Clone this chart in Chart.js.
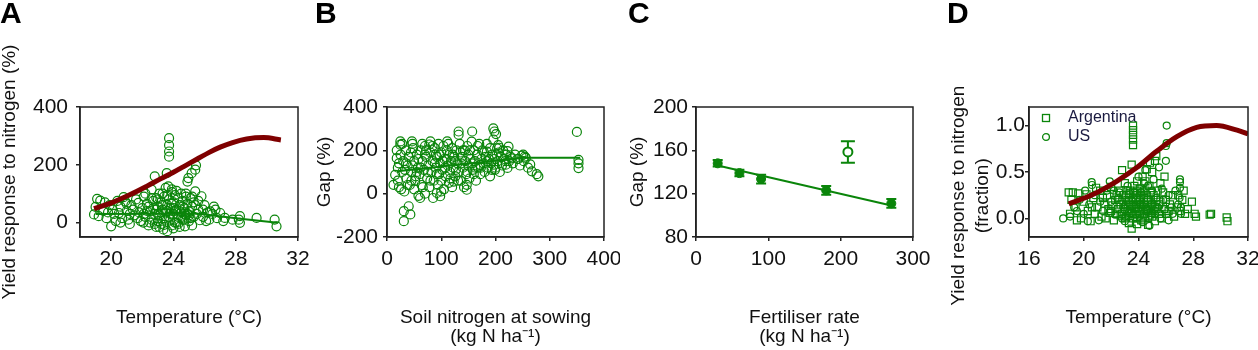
<!DOCTYPE html>
<html><head><meta charset="utf-8">
<script src="https://cdn.jsdelivr.net/npm/chart.js@4"></script>
<style>
html,body{margin:0;padding:0;background:#fff;}
#wrap{position:relative;width:1258px;height:350px;overflow:hidden;background:#fff;}
canvas{position:absolute;top:0;}
</style></head><body>
<div id="wrap">
<canvas id="cA" width="310" height="350" style="left:0px"></canvas>
<canvas id="cB" width="310" height="350" style="left:310px"></canvas>
<canvas id="cC" width="310" height="350" style="left:620px"></canvas>
<canvas id="cD" width="328" height="350" style="left:930px"></canvas>
</div>
<script>
// ---------- Panel A: yield response (%) vs temperature ----------
const aTemp = [19.1,19.3,19.0,18.9,19.2,19.5,19.7,19.9,20.0,20.2,
20.3,20.5,20.6,20.7,20.9,20.8,21.0,21.1,21.2,21.3,
21.5,21.6,21.75,21.8,21.9,22.0,22.07,22.1,22.2,22.3,
22.4,22.5,22.6,22.6,22.7,22.8,22.8,22.9,22.9,23.0,
23.0,23.1,23.1,23.2,23.2,23.3,23.35,23.4,23.4,23.5,
23.5,23.57,23.6,23.6,23.67,23.72,23.72,23.72,23.72,23.7,
23.8,23.8,23.9,23.9,24.0,24.0,24.1,24.1,24.2,24.3,
24.3,24.4,24.4,24.5,24.5,24.6,24.6,24.7,24.74,24.8,
24.8,24.9,24.96,24.9,25.0,25.0,25.1,25.17,25.2,25.2,
25.3,25.4,25.45,25.4,25.4,25.5,25.6,25.7,25.8,25.9,
25.9,26.0,26.1,26.2,26.35,26.5,26.6,26.8,27.0,27.2,
27.3,27.8,28.2,28.27,28.27,29.34,30.5,30.62,22.3,22.5,
22.7,23.0,23.3,23.5,23.8,24.0,24.2,24.5,24.7,25.0,
23.2,23.6,24.4,22.9,19.6,20.1,20.4,21.4,21.7,22.2,
23.9,24.8,25.2,26.3,26.7,22.1,22.4,22.6,22.8,23.0,
23.1,23.3,23.4,23.6,23.7,23.9,24.0,24.1,24.2,24.3,
24.6,24.7,24.9,25.1,25.3,21.2,21.0,20.6,19.8,25.6];
const aResp = [82,76,54,28,22,40,15,60,-13,30,
5,33,55,15,73,88,40,10,-5,60,
25,80,68,35,5,50,0,90,20,65,
-10,40,114,10,75,160,30,85,-15,55,
5,100,25,70,-5,45,-24,90,15,120,
35,171,60,-30,125,292,268,246,228,80,
10,50,105,-10,30,70,95,0,45,20,
85,-15,60,35,100,10,75,50,-13,90,
25,65,154,142,5,40,85,171,-10,55,
20,183,198,108,60,30,75,8,91,45,
20,60,5,35,39,30,55,15,33,5,
16,10,10,22,-1,16,10,-13,40,0,
50,30,60,10,30,50,0,20,30,25,
35,40,40,45,70,45,75,45,15,100,
115,100,90,10,45,30,55,85,-5,80,
-15,100,-8,95,20,65,-20,40,110,-5,
55,10,30,15,70,30,65,0,35,45];
const aCurveTemp = [18.9,20.1,21.2,22.3,23.2,24.0,24.8,25.5,26.3,27.0,27.8,28.7,29.8,30.9];
const aCurveResp = [48,70,96,126,152,174,198,219,243,261,277,289,294,286];
const aLineTemp = [19.0,25.5,28.3,30.7];
const aLineResp = [30,31,13,-1];
const aXTicks = [20,24,28,32];
const aYTicks = [0,200,400];

// ---------- Panel B: gap (%) vs soil nitrogen at sowing ----------
const bN = [24.6,24.6,18,12,15,31,40,31,43,46,
47,61,80,78,98,92,111,132,132,157,
196,198,201,147,147,123,172,184,203,350,
353,353,353,279,276,267,264,254,251,224,
222,222,219,199,197,205,207,230,242,20,
20,22,25,28,30,32,35,36,38,40,
42,45,48,50,50,52,55,57,58,60,
62,64,65,68,70,70,72,74,76,78,
80,82,84,85,86,88,90,92,94,95,
96,98,100,100,102,104,105,106,108,110,
112,114,115,116,118,120,120,122,124,126,
128,130,132,134,136,138,140,140,142,144,
146,148,150,150,152,154,156,158,160,162,
164,166,168,170,172,174,176,178,180,182,
184,186,188,190,190,192,194,196,198,200,
202,204,208,210,212,214,216,220,225,228,
232,236,240,245,248,252,256,260,70,35,
55,90,125,160,45,65,110,135,18,22,
26,28,33,38,44,47,53,58,62,66,
72,75,80,84,88,92,97,100,103,107,
113,117,121,127,131,137,143,148,153,157,
163,167,173,179,185,193,206,218];
const bGap = [241,226,164,41,87,-81,-58,-127,-96,241,
230,-20,241,227,-12,3,241,287,272,287,
301,287,275,41,18,56,133,194,209,285,
156,118,140,80,90,103,135,171,180,217,
196,119,134,110,134,224,212,163,160,120,
60,30,180,100,150,10,200,70,130,170,
40,100,210,150,20,60,180,120,-10,90,
200,40,150,110,220,0,170,70,130,30,
190,100,150,-20,60,210,120,170,40,230,
90,140,190,60,110,220,20,160,80,200,
130,50,180,100,150,210,30,120,170,80,
200,140,100,230,60,170,120,200,30,150,
90,220,180,130,70,160,240,110,200,150,
60,180,120,230,90,160,200,140,100,170,
230,120,160,210,80,140,180,250,160,120,
180,150,100,170,130,200,160,180,150,170,
140,180,160,130,175,150,165,120,180,140,
100,180,150,90,60,230,160,190,200,140,
20,230,110,40,190,130,80,160,120,30,
200,100,60,220,140,90,180,10,150,120,
230,70,180,110,60,140,200,100,200,140,
120,220,120,190,150,110,190,150];
const bLineN = [19,250,356];
const bLineGap = [104,166,166];
const bXTicks = [0,100,200,300,400];
const bYTicks = [-200,0,200,400];

// ---------- Panel C: gap (%) vs fertiliser rate ----------
const cFert = [30,60,90,180,270];
const cGap = [148,139,133.5,123,111];
const cErr = [3,3,4,4,4];
const cOutFert = [210];
const cOutGap = [158.5];
const cOutErr = [10];
const cLineFert = [30,270];
const cLineGap = [146,109];
const cXTicks = [0,100,200,300];
const cYTicks = [80,120,160,200];

// ---------- Panel D: yield response (fraction) vs temperature ----------
const dArgTemp = [23.6,23.6,23.6,23.6,23.6,24.84,24.6,23.5,25.3,25.2,
25.0,24.3,23.9,22.8,18.9,19.2,19.6,19.1,19.4,19.0,
19.8,20.0,20.3,20.5,20.7,21.0,21.2,21.3,21.5,21.7,
21.9,22.0,22.2,22.3,22.5,22.6,22.7,22.9,23.0,23.0,
23.1,23.2,23.3,23.3,23.4,23.5,23.5,23.6,23.7,23.7,
23.8,23.9,23.9,24.0,24.1,24.1,24.2,24.3,24.4,24.5,
24.5,24.6,24.7,24.7,24.8,24.9,25.0,25.1,25.2,25.3,
25.4,25.5,25.6,25.7,25.8,25.9,26.0,26.1,26.3,26.5,
26.6,26.8,27.0,27.2,27.4,27.6,27.9,28.1,28.2,29.2,
29.3,30.44,30.5,22.6,22.8,23.0,23.1,23.2,23.4,23.6,
23.8,24.0,24.2,24.4,24.6,24.8,25.0,25.2,23.3,23.9,
24.3,24.9,22.4,21.8,21.4,20.8,20.2,19.5,20.9,22.1,
25.6,25.9,24.5,22.4,22.7,22.9,23.1,23.2,23.4,23.5,
23.6,23.7,23.8,23.9,24.0,24.1,24.2,24.3,24.4,24.5,
24.6,24.7,24.8,24.9,25.1,25.3,25.5,22.0,21.6,20.6,
26.2,26.9,27.3];
const dArgResp = [1.0,0.95,0.9,0.85,0.79,0.6,0.53,0.58,0.67,0.62,
0.5,0.45,0.4,0.52,0.28,0.28,0.27,0.2,0.12,0.05,
0.0,0.18,0.08,-0.03,0.22,0.12,0.3,0.02,0.16,0.25,
0.06,0.34,-0.02,0.2,0.1,0.3,0.03,0.15,0.38,0.0,
0.25,0.08,-0.05,0.18,0.3,-0.11,0.12,0.22,0.04,0.35,
0.15,-0.06,0.25,0.08,0.18,0.32,-0.02,0.12,0.22,0.02,
0.3,0.1,-0.07,0.2,0.35,0.06,0.15,0.25,-0.03,0.1,
0.3,0.05,0.18,0.0,0.28,0.1,0.2,0.05,0.15,0.25,
0.02,0.12,0.08,0.2,0.05,0.1,0.18,0.05,0.02,0.04,
0.05,0.01,-0.03,0.2,0.05,0.1,0.14,0.2,0.06,0.0,
0.1,0.2,0.15,0.05,0.25,0.12,0.02,0.12,0.26,0.3,
0.28,0.2,0.25,0.1,0.22,0.05,0.26,-0.02,0.33,0.14,
0.38,0.45,0.4,0.05,0.15,0.25,0.02,0.3,0.15,0.05,
0.28,0.12,0.22,0.0,0.14,0.05,0.25,0.0,0.15,0.1,
0.18,0.08,0.03,0.28,0.08,0.2,0.15,0.08,0.0,0.12,
0.08,0.25,0.3];
const dUsTemp = [26.06,26.06,26.0,26.0,18.5,27.03,27.03,27.03,20.58,20.6,
19.0,19.3,19.7,20.0,20.4,20.8,21.1,21.4,21.7,22.0,
22.3,22.6,22.9,23.2,23.5,23.8,24.0,24.2,24.5,24.7,
24.9,25.1,25.3,25.5,25.7,25.9,26.2,26.4,26.7,27.0,
27.1,24.3,24.8,23.0,25.6,26.2,21.9,20.3,22.5,24.6,
25.2,19.5,20.1,21.2,22.2,22.8,23.4,23.7,24.1,24.4,
25.0,25.4,25.8,26.5,26.9,27.1];
const dUsResp = [1.0,0.81,0.78,0.62,0.0,0.42,0.39,0.33,0.39,0.36,
0.02,0.12,0.2,0.05,0.15,0.25,-0.02,0.08,0.3,0.18,
0.04,0.28,0.12,0.35,0.2,0.05,0.45,0.28,0.52,0.35,
0.15,0.42,0.22,0.55,0.32,0.1,0.25,0.12,0.3,0.22,
0.12,-0.04,-0.08,-0.03,0.0,-0.02,0.4,-0.03,0.22,0.1,
0.05,0.08,0.3,0.18,0.3,0.0,0.1,0.28,0.15,0.38,
0.3,0.12,0.2,0.05,0.15,0.05];
const dCurveTemp = [18.9,20.7,22.4,23.9,25.3,26.8,28.25,29.7,31.2,32.0];
const dCurveResp = [0.156,0.26,0.40,0.55,0.72,0.88,0.98,1.0,0.95,0.91];
const dXTicks = [16,20,24,28,32];
const dYTicks = [0,0.5,1.0];

// ---------- styling / helpers ----------
Chart.defaults.font.family = "'Liberation Sans', Arial, Helvetica, sans-serif";
Chart.defaults.color = '#111';
const GREEN = '#0a850a';
const RED = '#7f0000';
const INK = '#111';

function pts(xs, ys) { return xs.map((x, i) => ({x: x, y: ys[i]})); }

function makeAxis(o) {
  return {
    type: 'linear',
    position: o.isX ? 'bottom' : 'left',
    min: o.min, max: o.max,
    afterBuildTicks: s => { s.ticks = o.ticks.map(v => ({value: v})); },
    afterFit: s => {
      if (o.isX) s.height = o.size; else s.width = o.size;
      s.paddingLeft = 0; s.paddingRight = 0; s.paddingTop = 0; s.paddingBottom = 0;
    },
    ticks: {autoSkip: false, maxRotation: 0, minRotation: 0, padding: o.tickPad,
      color: INK, font: {size: 21}, callback: o.fmt || (v => String(v))},
    grid: {display: true, drawOnChartArea: false, drawTicks: true, tickLength: 4,
      color: '#222', lineWidth: 1.5},
    border: {display: true, color: '#222', width: 1.5},
    title: {display: true, text: o.title, color: INK,
      font: {size: 19, lineHeight: o.titleLH || 1},
      padding: {top: o.titlePadTop || 0, bottom: o.titlePadBottom || 0}}
  };
}

const framePlugin = {
  id: 'frame',
  afterDatasetsDraw(chart) {
    const a = chart.chartArea, ctx = chart.ctx;
    ctx.save();
    ctx.strokeStyle = '#222'; ctx.lineWidth = 1.5;
    ctx.strokeRect(a.left, a.top, a.right - a.left, a.bottom - a.top);
    ctx.restore();
  }
};

// keep a 'chartArea' legend inside the plot area (vertical legends reset their top to 0)
const legendInArea = {
  id: 'legendInArea',
  afterLayout(chart) {
    const lg = chart.legend;
    if (lg && lg.options.position === 'chartArea') {
      const d = chart.chartArea.top - lg.top;
      lg.top += d; lg.bottom += d;
    }
  }
};

const errorBarPlugin = {
  id: 'errorBars',
  beforeDatasetsDraw(chart) {
    const ctx = chart.ctx, ys = chart.scales.y;
    chart.data.datasets.forEach((ds, i) => {
      if (!ds.errY) return;
      const meta = chart.getDatasetMeta(i);
      ctx.save();
      ctx.strokeStyle = GREEN; ctx.lineWidth = 2;
      meta.data.forEach((el, j) => {
        const v = ds.data[j].y, e = ds.errY[j];
        const top = ys.getPixelForValue(v + e), bot = ys.getPixelForValue(v - e);
        const x = el.x, c = ds.capHalf;
        ctx.beginPath();
        ctx.moveTo(x, top); ctx.lineTo(x, bot);
        ctx.moveTo(x - c, top); ctx.lineTo(x + c, top);
        ctx.moveTo(x - c, bot); ctx.lineTo(x + c, bot);
        ctx.stroke();
      });
      ctx.restore();
    });
  }
};

function baseOptions(o) {
  return {
    responsive: false,
    animation: false,
    events: [],
    layout: {padding: o.pad},
    plugins: {
      legend: o.legend || {display: false},
      tooltip: {enabled: false},
      title: {display: true, text: o.letter, align: 'start', color: '#000',
        font: {size: 30, weight: 'bold', lineHeight: 1}, padding: {top: 0, bottom: 77}}
    },
    scales: {x: makeAxis(o.xAxis), y: makeAxis(o.yAxis)}
  };
}

function curveDs(xs, ys) {
  return {label: 'curve', data: pts(xs, ys), showLine: true, borderColor: RED, borderWidth: 5,
    pointRadius: 0, tension: 0.4, cubicInterpolationMode: 'monotone', fill: false};
}
function lineDs(xs, ys) {
  return {label: 'fit', data: pts(xs, ys), showLine: true, borderColor: GREEN, borderWidth: 2,
    pointRadius: 0, tension: 0, fill: false};
}

// ---------- Chart A ----------
new Chart(document.getElementById('cA'), {
  type: 'scatter',
  data: {datasets: [
    curveDs(aCurveTemp, aCurveResp),
    lineDs(aLineTemp, aLineResp),
    {label: 'obs', data: pts(aTemp, aResp), pointStyle: 'circle', pointRadius: 4.5,
      borderWidth: 1.2, borderColor: GREEN, backgroundColor: 'rgba(0,0,0,0)'}
  ]},
  options: baseOptions({
    letter: 'A', pad: {left: 0, right: 12, top: 0, bottom: 0},
    xAxis: {isX: true, min: 18, max: 32, ticks: aXTicks, size: 113, tickPad: 6,
      title: 'Temperature (°C)', titlePadBottom: 22.5},
    yAxis: {isX: false, min: -50, max: 400, ticks: aYTicks, size: 80, tickPad: 8,
      title: 'Yield response to nitrogen (%)'}
  }),
  plugins: [framePlugin]
});

// ---------- Chart B ----------
new Chart(document.getElementById('cB'), {
  type: 'scatter',
  data: {datasets: [
    lineDs(bLineN, bLineGap),
    {label: 'obs', data: pts(bN, bGap), pointStyle: 'circle', pointRadius: 4.5,
      borderWidth: 1.2, borderColor: GREEN, backgroundColor: 'rgba(0,0,0,0)'}
  ]},
  options: baseOptions({
    letter: 'B', pad: {left: 5, right: 16, top: 0, bottom: 0},
    xAxis: {isX: true, min: 0, max: 400, ticks: bXTicks, size: 113, tickPad: 6,
      title: ['Soil nitrogen at sowing', '(kg N ha⁻¹)'], titlePadBottom: 3.5},
    yAxis: {isX: false, min: -200, max: 400, ticks: bYTicks, size: 72, tickPad: 5,
      title: 'Gap (%)'}
  }),
  plugins: [framePlugin]
});

// ---------- Chart C ----------
new Chart(document.getElementById('cC'), {
  type: 'scatter',
  data: {datasets: [
    {label: 'open', data: pts(cOutFert, cOutGap), errY: cOutErr, capHalf: 7, pointStyle: 'circle',
      pointRadius: 4.5, borderWidth: 2, borderColor: GREEN, backgroundColor: '#ffffff'},
    {label: 'mean', data: pts(cFert, cGap), errY: cErr, capHalf: 5, pointStyle: 'circle',
      pointRadius: 4.5, borderWidth: 1, borderColor: GREEN, backgroundColor: GREEN},
    lineDs(cLineFert, cLineGap)
  ]},
  options: baseOptions({
    letter: 'C', pad: {left: 8, right: 17, top: 0, bottom: 0},
    xAxis: {isX: true, min: 0, max: 300, ticks: cXTicks, size: 113, tickPad: 6,
      title: ['Fertiliser rate', '(kg N ha⁻¹)'], titlePadBottom: 3.5},
    yAxis: {isX: false, min: 80, max: 200, ticks: cYTicks, size: 68, tickPad: 4,
      title: 'Gap (%)'}
  }),
  plugins: [errorBarPlugin, framePlugin]
});

// ---------- Chart D ----------
function markerCanvas(kind) {
  const c = document.createElement('canvas');
  c.width = 10; c.height = 10;
  const g = c.getContext('2d');
  g.strokeStyle = GREEN; g.lineWidth = 1.3;
  if (kind === 'rect') { g.strokeRect(1.5, 1.5, 7, 7); }
  else { g.beginPath(); g.arc(5, 5, 3.4, 0, Math.PI * 2); g.stroke(); }
  return c;
}
const legendMarkers = {'Argentina': markerCanvas('rect'), 'US': markerCanvas('circle')};
const pad9 = '         ';

new Chart(document.getElementById('cD'), {
  type: 'scatter',
  data: {datasets: [
    curveDs(dCurveTemp, dCurveResp),
    {label: 'Argentina', data: pts(dArgTemp, dArgResp), pointStyle: 'rect', pointRadius: 5,
      borderWidth: 1.2, borderColor: GREEN, backgroundColor: 'rgba(0,0,0,0)'},
    {label: 'US', data: pts(dUsTemp, dUsResp), pointStyle: 'circle', pointRadius: 3.5,
      borderWidth: 1.2, borderColor: GREEN, backgroundColor: 'rgba(0,0,0,0)'}
  ]},
  options: baseOptions({
    letter: 'D', pad: {left: 17, right: 10, top: 0, bottom: 0},
    legend: {display: true, position: 'chartArea', align: 'start',
      labels: {usePointStyle: true, pointStyleWidth: 28, padding: 3, color: '#1a1a40',
        font: {size: 16},
        generateLabels(chart) {
          return chart.data.datasets.map((ds, i) => ({
            text: ds.label, pointStyle: legendMarkers[ds.label], datasetIndex: i, hidden: false,
            fontColor: '#1a1a40', lineWidth: 0, strokeStyle: 'rgba(0,0,0,0)', fillStyle: 'rgba(0,0,0,0)'
          })).filter(it => it.pointStyle);
        }}},
    xAxis: {isX: true, min: 16, max: 32, ticks: dXTicks, size: 113, tickPad: 6,
      title: 'Temperature (°C)', titlePadBottom: 22.5},
    yAxis: {isX: false, min: -0.2, max: 1.2, ticks: dYTicks, size: 82, tickPad: 0,
      fmt: v => v.toFixed(1),
      title: ['Yield response to nitrogen' + pad9, '(fraction)' + pad9], titleLH: 24 / 19}
  }),
  plugins: [legendInArea, framePlugin]
});
</script>
</body></html>
